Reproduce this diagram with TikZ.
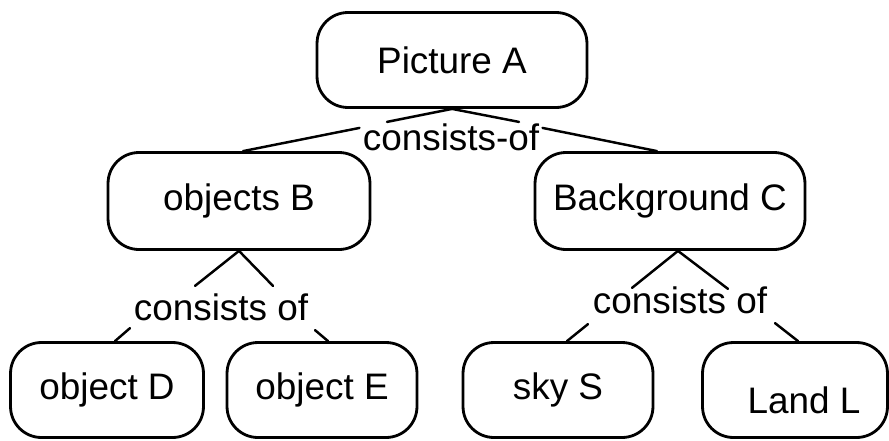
\documentclass[tikz,border=0pt]{standalone}
\usepackage{fontspec}
\setmainfont{Liberation Sans}
\usetikzlibrary{calc}

\tikzset{
    box/.style={draw, line width=1.6pt, rounded corners=0.62cm, minimum height=1.9cm, font=\fontsize{21}{25}\selectfont},
    rel/.style={inner sep=0pt, anchor=base, font=\fontsize{21}{25}\selectfont},
    link/.style={line width=1.4pt, line cap=round}
}

\begin{document}
\begin{tikzpicture}[x=0.02cm, y=-0.02cm]
    \useasboundingbox (0,0) rectangle (889,440);

    % Boxes
    \node[box, minimum width=5.4cm] (picA) at (452,60) {Picture A};
    \node[box, minimum width=5.24cm, minimum height=1.94cm] (objB) at (239,201) {objects B};
    \node[box, minimum width=5.4cm, minimum height=1.94cm] (bgC) at (670,201) {Background C};
    \node[box, minimum width=3.86cm] (objD) at (107,390) {object D};
    \node[box, minimum width=3.8cm] (objE) at (322,390) {object E};
    \node[box, minimum width=3.8cm] (skyS) at (558,390) {sky S};
    \node[box, minimum width=3.7cm] (landL) at (795,390) {};
    \node[inner sep=0pt, font=\fontsize{21}{25}\selectfont] (landT) at ($(landL)+(9,10)$) {Land L};

    % Relation labels
    \node[rel] (cof1) at (451,150) {consists-of};
    \node[rel] (cof2) at (221,320) {consists of};
    \node[rel] (cof3) at (680,313) {consists of};

    % Picture A -> consists-of
    \draw[link] (picA.south) -- ++(-65,13);
    \draw[link] (picA.south) -- ++(67,13);
    \draw[link] ($(cof1.north west)+(-3,5)$) -- ($(objB.north)+(4,0)$);
    \draw[link] ($(cof1.north east)+(3,5)$) -- ($(bgC.north)+(-13,0)$);

    % objects B -> consists of
    \draw[link] (objB.south) -- ++(-44,35);
    \draw[link] (objB.south) -- ++(34,35);
    \draw[link] ($(objD.north)+(8,0)$) -- ++(15,-13);
    \draw[link] ($(objE.north)+(6,0)$) -- ++(-13,-11);

    % Background C -> consists of
    \draw[link] ($(bgC.south)+(8,0)$) -- ++(-46,37);
    \draw[link] ($(bgC.south)+(8,0)$) -- ++(50,38);
    \draw[link] ($(skyS.north)+(9,0)$) -- ++(21,-17);
    \draw[link] ($(landL.north)+(3,0)$) -- ++(-23,-18);
\end{tikzpicture}
\end{document}
